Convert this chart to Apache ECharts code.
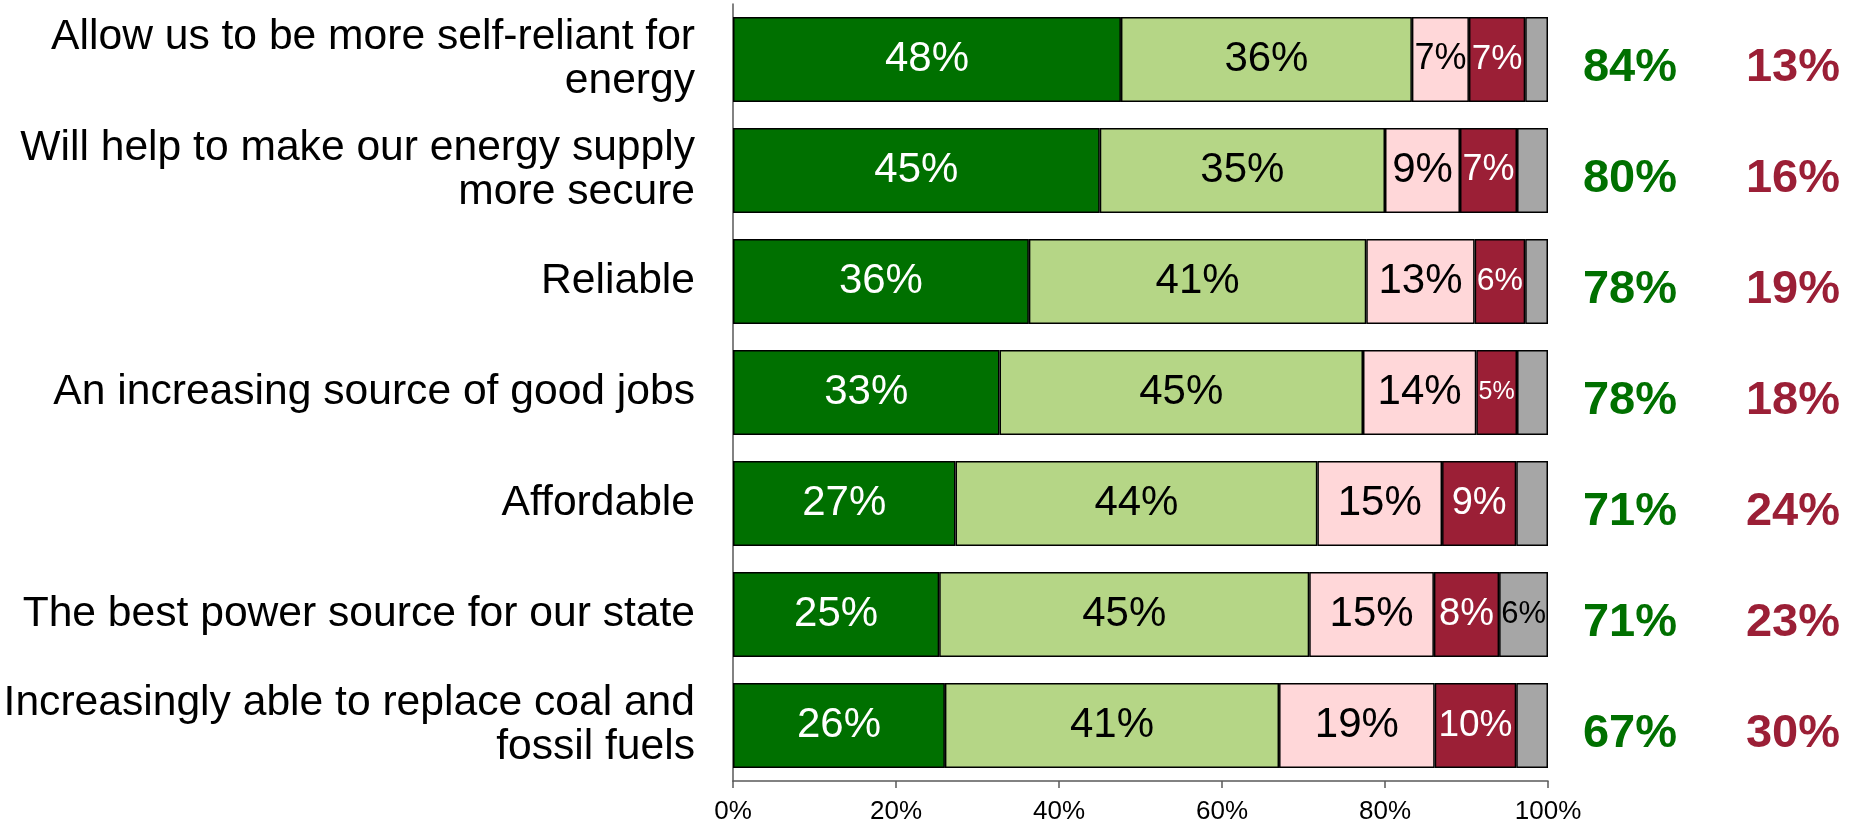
<!DOCTYPE html>
<html>
<head>
<meta charset="utf-8">
<script src="https://cdn.jsdelivr.net/npm/echarts@6/dist/echarts.min.js"></script>
<style>
  html, body { margin: 0; padding: 0; background: #fff; }
  #main { width: 1862px; height: 822px; }
</style>
</head>
<body>
<div id="main"></div>
<script>
// statements, top to bottom
const categories = [
    'Allow us to be more self-reliant for\nenergy',
    'Will help to make our energy supply\nmore secure',
    'Reliable',
    'An increasing source of good jobs',
    'Affordable',
    'The best power source for our state',
    'Increasingly able to replace coal and\nfossil fuels'
];

// shares in %
const strongAgree    = [47.6, 45.0, 36.3, 32.7, 27.3, 25.3, 26.0];
const agree          = [35.7, 35.0, 41.4, 44.6, 44.4, 45.4, 41.0];
const disagree       = [7.0, 9.2, 13.3, 13.9, 15.3, 15.3, 19.1];
const strongDisagree = [6.9, 7.0, 6.2, 5.0, 9.1, 8.0, 10.0];
const unsure         = [2.8, 3.8, 2.8, 3.8, 3.9, 6.0, 3.9];

// totals in the two columns on the right
const netAgree    = [84, 80, 78, 78, 71, 71, 67];
const netDisagree = [13, 16, 19, 18, 24, 23, 30];

const xTicks = [0, 20, 40, 60, 80, 100];

const FONT = "'Liberation Sans', Arial, sans-serif";
const PLOT_W = 815; // width of the plot in px, used to shrink labels in narrow segments

// builds bar items and makes the label smaller when the segment is too narrow
function makeItems(values, baseSize, minShow) {
    return values.map(function (v) {
        const txt = Math.round(v) + '%';
        const em = (txt.length - 1) * 0.556 + 0.889;
        const fit = (v / 100) * PLOT_W * 0.92 / em;
        return {
            value: v,
            label: {
                show: v >= minShow,
                fontSize: Math.min(baseSize, Math.floor(fit))
            }
        };
    });
}

function barSeries(name, values, color, textColor, baseSize, minShow) {
    return {
        name: name,
        type: 'bar',
        stack: 'all',
        barWidth: 85,
        data: makeItems(values, baseSize, minShow),
        itemStyle: { color: color, borderColor: '#000', borderWidth: 1.5 },
        label: {
            show: true,
            position: 'inside',
            color: textColor,
            fontFamily: FONT,
            formatter: function (p) { return Math.round(p.value) + '%'; }
        },
        emphasis: { disabled: true }
    };
}

const chart = echarts.init(document.getElementById('main'));

chart.setOption({
    animation: false,
    backgroundColor: '#fff',
    grid: { left: 733, right: 314, top: 4, bottom: 41, containLabel: false, outerBoundsMode: 'none' },
    xAxis: {
        type: 'value',
        min: xTicks[0],
        max: xTicks[xTicks.length - 1],
        interval: xTicks[1] - xTicks[0],
        axisLine: { show: true, lineStyle: { color: '#595959', width: 1.5 } },
        axisTick: { show: true, length: 7, lineStyle: { color: '#595959', width: 1.5 } },
        splitLine: { show: false },
        axisLabel: {
            formatter: '{value}%',
            fontSize: 26,
            color: '#000',
            fontFamily: FONT,
            margin: 18
        }
    },
    yAxis: [
        {
            type: 'category',
            inverse: true,
            data: categories,
            axisLine: { show: true, lineStyle: { color: '#595959', width: 1.5 } },
            axisTick: { show: false },
            axisLabel: {
                fontSize: 42.6,
                lineHeight: 44,
                color: '#000',
                fontFamily: FONT,
                margin: 38
            }
        },
        {
            type: 'category',
            inverse: true,
            position: 'right',
            data: categories,
            axisLine: { show: false },
            axisTick: { show: false },
            axisLabel: {
                margin: 22,
                padding: [18, 0, 0, 0],
                formatter: function (v, i) {
                    return '{g|' + netAgree[i] + '%}{r|' + netDisagree[i] + '%}';
                },
                rich: {
                    g: { width: 120, align: 'center', fontSize: 47, fontWeight: 'bold', color: '#007000', fontFamily: FONT },
                    r: { width: 206, align: 'center', fontSize: 47, fontWeight: 'bold', color: '#9b1f36', fontFamily: FONT }
                }
            }
        }
    ],
    series: [
        barSeries('Strongly agree', strongAgree, '#007000', '#fff', 42, 4),
        barSeries('Somewhat agree', agree, '#b5d686', '#000', 42, 4),
        barSeries('Somewhat disagree', disagree, '#ffd7d9', '#000', 42, 4),
        barSeries('Strongly disagree', strongDisagree, '#9b1f36', '#fff', 38, 4),
        barSeries('Not sure', unsure, '#a6a6a6', '#000', 42, 5)
    ]
});
</script>
</body>
</html>
